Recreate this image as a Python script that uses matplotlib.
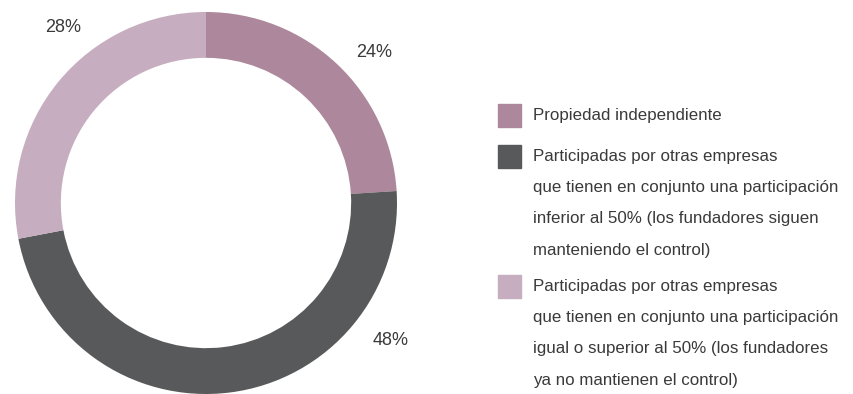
import matplotlib.pyplot as plt
from matplotlib.patches import Rectangle

plt.rcParams['font.family'] = ['Liberation Sans Narrow', 'Liberation Sans', 'DejaVu Sans']

# Estructura de propiedad de las empresas (%)
shares = [24, 48, 28]
share_labels = ['24%', '48%', '28%']
legend_labels = [
    'Propiedad independiente',
    'Participadas por otras empresas\nque tienen en conjunto una participación\n'
    'inferior al 50% (los fundadores siguen\nmanteniendo el control)',
    'Participadas por otras empresas\nque tienen en conjunto una participación\n'
    'igual o superior al 50% (los fundadores\nya no mantienen el control)',
]
colors = ['#ad879b', '#58595b', '#c6adbf']
text_color = '#3a3a3a'

fig = plt.figure(figsize=(8.54, 3.94), dpi=100)
ax = fig.add_axes([15 / 854, 0, 382 / 854, 382 / 394])
ax.pie(shares, colors=colors, startangle=90, counterclock=False,
       radius=1.0, wedgeprops=dict(width=0.24, linewidth=0))
ax.set_xlim(-1, 1)
ax.set_ylim(-1, 1)
ax.set_aspect('equal')
ax.axis('off')

# label positions around the ring (x, y in axis units)
label_pos = [(0.88, 0.79), (0.965, -0.72), (-0.75, 0.92)]
for lbl, (x, y) in zip(share_labels, label_pos):
    ax.text(x, y, lbl, ha='center', va='center', fontsize=13,
            color=text_color, clip_on=False)

# legend drawn by hand: square swatch + wrapped text
sq_w, sq_h = 23 / 854, 23 / 394
tops = [104, 145, 275]
for lab, col, top in zip(legend_labels, colors, tops):
    y0 = 1 - (top + 23) / 394
    fig.patches.append(Rectangle((498 / 854, y0), sq_w, sq_h, color=col,
                                 transform=fig.transFigure, figure=fig))
    fig.text(533 / 854, 1 - (top + 4) / 394, lab, ha='left', va='top',
             fontsize=12.2, color=text_color, linespacing=2.35)

fig.savefig('out.png', dpi=100)
